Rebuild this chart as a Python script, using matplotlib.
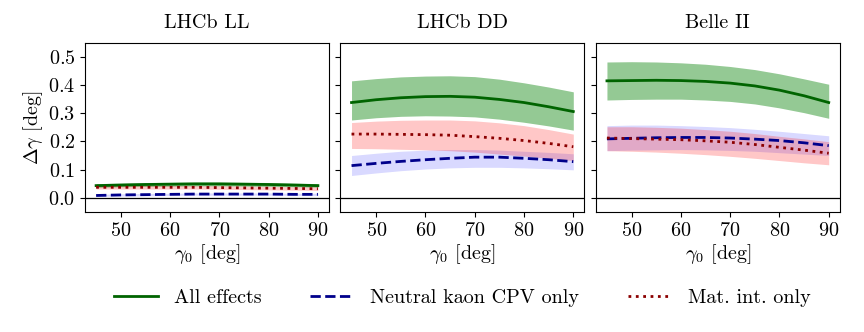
import numpy as np
import matplotlib
matplotlib.use('Agg')
import matplotlib.pyplot as plt

plt.rcParams['font.family'] = 'serif'
plt.rcParams['font.serif'] = ['cmr10', 'DejaVu Serif']
plt.rcParams['mathtext.fontset'] = 'cm'
plt.rcParams['axes.formatter.use_mathtext'] = True
plt.rcParams['font.size'] = 14.5

gamma0 = [45, 50, 55, 60, 65, 70, 75, 80, 85, 90]
titles = ['LHCb LL', 'LHCb DD', 'Belle II']

# LHCb LL
ll_all = [0.043, 0.045, 0.047, 0.048, 0.049, 0.049, 0.048, 0.047, 0.045, 0.043]
ll_all_lo = [0.037, 0.039, 0.040, 0.041, 0.042, 0.042, 0.041, 0.040, 0.039, 0.037]
ll_all_hi = [0.050, 0.052, 0.054, 0.055, 0.056, 0.056, 0.055, 0.054, 0.052, 0.050]
ll_kaon = [0.008, 0.010, 0.011, 0.012, 0.013, 0.013, 0.013, 0.013, 0.012, 0.012]
ll_kaon_lo = [0.005, 0.006, 0.007, 0.008, 0.009, 0.009, 0.009, 0.009, 0.008, 0.008]
ll_kaon_hi = [0.012, 0.014, 0.015, 0.016, 0.017, 0.017, 0.017, 0.017, 0.016, 0.016]
ll_mat = [0.037, 0.037, 0.037, 0.037, 0.037, 0.036, 0.035, 0.034, 0.033, 0.032]
ll_mat_lo = [0.031, 0.031, 0.031, 0.031, 0.031, 0.030, 0.029, 0.028, 0.027, 0.026]
ll_mat_hi = [0.043, 0.043, 0.043, 0.043, 0.043, 0.042, 0.041, 0.040, 0.039, 0.038]

# LHCb DD
dd_all = [0.338, 0.348, 0.355, 0.359, 0.360, 0.357, 0.349, 0.338, 0.323, 0.306]
dd_all_lo = [0.276, 0.284, 0.289, 0.291, 0.290, 0.287, 0.279, 0.268, 0.255, 0.240]
dd_all_hi = [0.415, 0.423, 0.429, 0.432, 0.433, 0.430, 0.421, 0.408, 0.393, 0.376]
dd_kaon = [0.114, 0.122, 0.129, 0.135, 0.140, 0.144, 0.144, 0.140, 0.135, 0.128]
dd_kaon_lo = [0.079, 0.088, 0.096, 0.102, 0.106, 0.108, 0.108, 0.106, 0.103, 0.099]
dd_kaon_hi = [0.150, 0.158, 0.165, 0.169, 0.171, 0.171, 0.169, 0.165, 0.161, 0.156]
dd_mat = [0.226, 0.226, 0.225, 0.224, 0.222, 0.217, 0.211, 0.203, 0.193, 0.181]
dd_mat_lo = [0.175, 0.174, 0.172, 0.170, 0.167, 0.162, 0.155, 0.148, 0.140, 0.132]
dd_mat_hi = [0.267, 0.272, 0.275, 0.276, 0.276, 0.273, 0.266, 0.256, 0.242, 0.226]

# Belle II
b2_all = [0.415, 0.416, 0.417, 0.416, 0.413, 0.407, 0.397, 0.382, 0.362, 0.338]
b2_all_lo = [0.347, 0.349, 0.350, 0.350, 0.347, 0.342, 0.333, 0.319, 0.302, 0.282]
b2_all_hi = [0.482, 0.483, 0.482, 0.479, 0.474, 0.466, 0.455, 0.440, 0.422, 0.403]
b2_kaon = [0.209, 0.211, 0.213, 0.214, 0.214, 0.212, 0.208, 0.203, 0.195, 0.185]
b2_kaon_lo = [0.167, 0.169, 0.170, 0.171, 0.170, 0.168, 0.165, 0.160, 0.155, 0.150]
b2_kaon_hi = [0.256, 0.258, 0.258, 0.256, 0.253, 0.249, 0.243, 0.236, 0.228, 0.220]
b2_mat = [0.212, 0.210, 0.208, 0.206, 0.202, 0.197, 0.189, 0.179, 0.169, 0.158]
b2_mat_lo = [0.167, 0.165, 0.162, 0.158, 0.153, 0.147, 0.140, 0.132, 0.124, 0.117]
b2_mat_hi = [0.252, 0.252, 0.250, 0.247, 0.242, 0.236, 0.228, 0.218, 0.209, 0.199]

panels = [
    [(ll_all, ll_all_lo, ll_all_hi), (ll_kaon, ll_kaon_lo, ll_kaon_hi), (ll_mat, ll_mat_lo, ll_mat_hi)],
    [(dd_all, dd_all_lo, dd_all_hi), (dd_kaon, dd_kaon_lo, dd_kaon_hi), (dd_mat, dd_mat_lo, dd_mat_hi)],
    [(b2_all, b2_all_lo, b2_all_hi), (b2_kaon, b2_kaon_lo, b2_kaon_hi), (b2_mat, b2_mat_lo, b2_mat_hi)],
]

labels = ['All effects', 'Neutral kaon CPV only', 'Mat. int. only']
line_colors = ['darkgreen', 'darkblue', 'darkred']
band_colors = ['green', 'blue', 'red']
band_alpha = [0.42, 0.15, 0.22]
styles = ['-', '--', ':']

fig, axes = plt.subplots(1, 3, figsize=(8.64, 3.32), dpi=100, sharey=True)
fig.subplots_adjust(left=0.0984, right=0.972, top=0.871, bottom=0.362, wspace=0.047)

for ax, title, series in zip(axes, titles, panels):
    ax.axhline(0, color='black', lw=0.9)
    for (c, lo, hi), lab, lc, bc, ba, ls in zip(series, labels, line_colors, band_colors, band_alpha, styles):
        ax.fill_between(gamma0, lo, hi, color=bc, alpha=ba, lw=0)
        ax.plot(gamma0, c, color=lc, ls=ls, lw=2, label=lab)
    ax.set_title(title, fontsize=14.5, pad=10.5)
    ax.set_xlabel(r'$\gamma_0$ [deg]', labelpad=2)
    ax.set_xticks([50, 60, 70, 80, 90])
    ax.set_ylim(-0.05, 0.55)
    ax.set_yticks([0.0, 0.1, 0.2, 0.3, 0.4, 0.5])

axes[0].set_ylabel(r'$\Delta\gamma$ [deg]', labelpad=2)

handles, labs = axes[0].get_legend_handles_labels()
fig.legend(handles, labs, loc='center', ncol=3, frameon=False,
           bbox_to_anchor=(0.535, 0.102), columnspacing=2.4,
           handlelength=2.2, handletextpad=0.8)

plt.savefig('out.png', dpi=100)
